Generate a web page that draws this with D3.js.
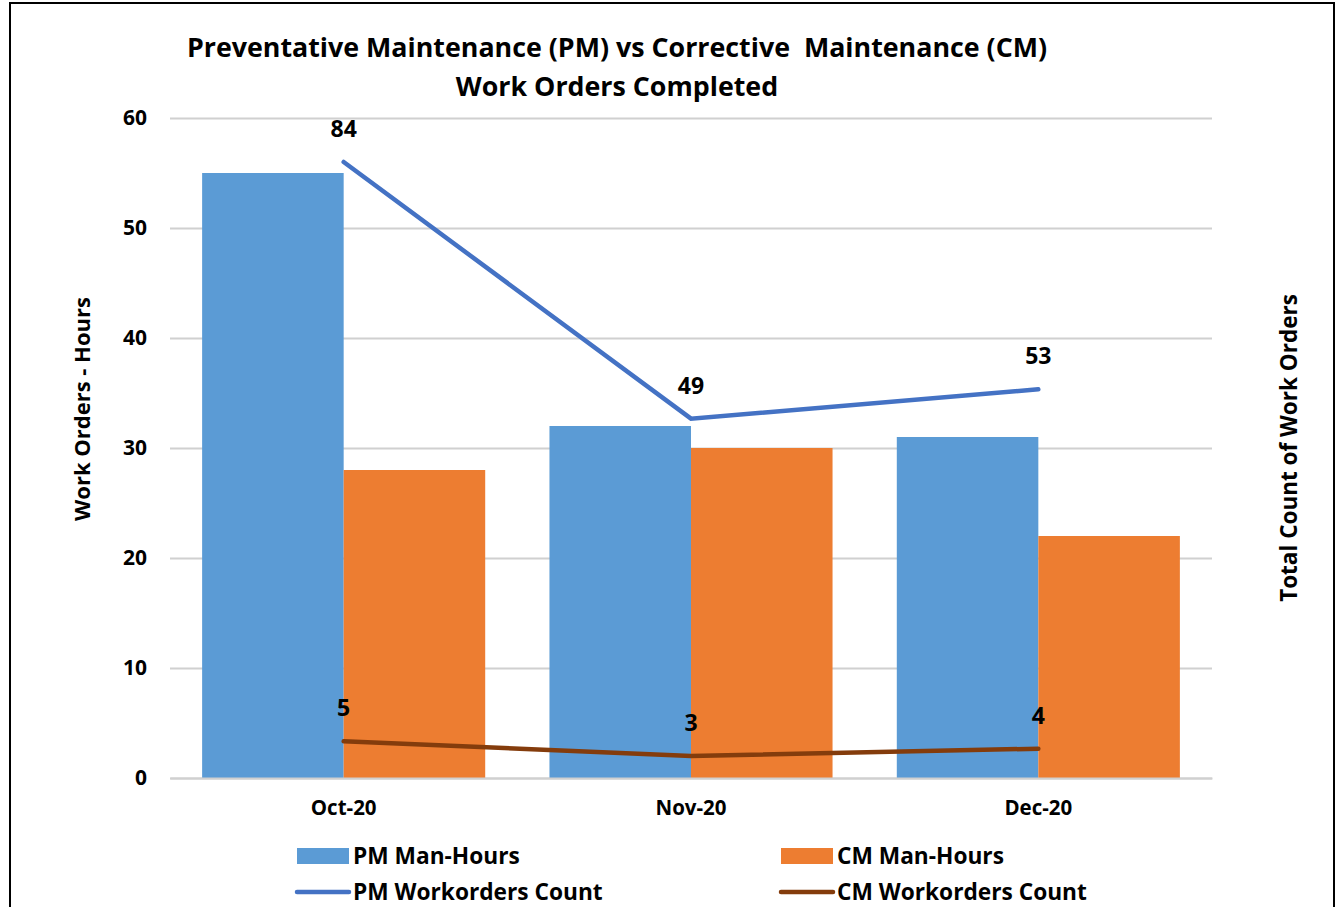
<!DOCTYPE html>
<html>
<head>
<meta charset="utf-8">
<script src="https://cdn.jsdelivr.net/npm/d3@7"></script>
<style>
  body { margin: 0; background: #fff; }
  svg text { font-family: "Open Sans", sans-serif; font-weight: bold; fill: #000; }
</style>
</head>
<body>
<svg id="chart"></svg>
<script>
const months = ["Oct-20", "Nov-20", "Dec-20"];
const pmHours = [55, 32, 31];
const cmHours = [28, 30, 22];
const pmCount = [84, 49, 53];
const cmCount = [5, 3, 4];
const hourTicks = [0, 10, 20, 30, 40, 50, 60];

const width = 1344, height = 907;
const marginTop = 118, marginRight = 132, marginBottom = 129, marginLeft = 170;

const svg = d3.select("#chart")
  .attr("width", width)
  .attr("height", height);

// outer frame
svg.append("rect")
  .attr("x", 10).attr("y", 3)
  .attr("width", 1324).attr("height", 930)
  .attr("fill", "none")
  .attr("stroke", "#000")
  .attr("stroke-width", 2);

const x = d3.scaleBand()
  .domain(months)
  .range([marginLeft, width - marginRight])
  .paddingInner(0.185)
  .paddingOuter(0.0925);

const xCenter = d3.scaleBand()
  .domain(months)
  .range([marginLeft, width - marginRight]);

const xSub = d3.scaleBand()
  .domain(["pm", "cm"])
  .range([0, x.bandwidth()]);

const y = d3.scaleLinear()
  .domain([0, 60])
  .range([height - marginBottom, marginTop]);

// secondary axis, hidden in the original
const y2 = d3.scaleLinear()
  .domain([0, 90])
  .range([height - marginBottom, marginTop]);

// gridlines
svg.append("g")
  .attr("transform", `translate(${marginLeft},0)`)
  .call(d3.axisLeft(y).tickValues(hourTicks).tickSize(-(width - marginLeft - marginRight)).tickFormat(""))
  .call(g => g.select(".domain").remove())
  .call(g => g.selectAll("line").attr("stroke", "#d0d0d0").attr("stroke-width", 2));

// y tick labels
svg.append("g")
  .attr("transform", `translate(${marginLeft},0)`)
  .call(d3.axisLeft(y).tickValues(hourTicks).tickSize(0).tickPadding(23))
  .call(g => g.select(".domain").remove())
  .call(g => g.selectAll("text").attr("font-size", 21).attr("font-family", "Open Sans").attr("font-weight", "bold"));

// bars
const series = [
  { key: "pm", values: pmHours, color: "#5B9BD5" },
  { key: "cm", values: cmHours, color: "#ED7D31" }
];

series.forEach(s => {
  svg.append("g")
    .attr("fill", s.color)
    .selectAll("rect")
    .data(months)
    .join("rect")
      .attr("x", (d, i) => x(d) + xSub(s.key))
      .attr("y", (d, i) => y(s.values[i]))
      .attr("width", xSub.bandwidth())
      .attr("height", (d, i) => y(0) - y(s.values[i]));
});

// x axis
svg.append("g")
  .attr("transform", `translate(0,${height - marginBottom})`)
  .call(d3.axisBottom(xCenter).tickSize(0).tickPadding(22))
  .call(g => g.select(".domain").attr("stroke", "#d0d0d0").attr("stroke-width", 2))
  .call(g => g.selectAll("text").attr("font-size", 20.5).attr("font-family", "Open Sans").attr("font-weight", "bold"));

// lines
const lines = [
  { values: pmCount, color: "#4472C4" },
  { values: cmCount, color: "#843C0C" }
];

const cx = d => xCenter(d) + xCenter.bandwidth() / 2;

lines.forEach(l => {
  const line = d3.line()
    .x((d, i) => cx(months[i]))
    .y(d => y2(d));
  svg.append("path")
    .datum(l.values)
    .attr("fill", "none")
    .attr("stroke", l.color)
    .attr("stroke-width", 4.5)
    .attr("stroke-linecap", "round")
    .attr("d", line);

  svg.append("g")
    .selectAll("text")
    .data(l.values)
    .join("text")
      .attr("x", (d, i) => cx(months[i]))
      .attr("y", d => y2(d) - 25)
      .attr("text-anchor", "middle")
      .attr("font-size", 23)
      .text(d => d);
});

// title
svg.append("text")
  .attr("x", 617).attr("y", 57)
  .attr("text-anchor", "middle")
  .attr("font-size", 26.8)
  .style("white-space", "pre")
  .text("Preventative Maintenance (PM) vs Corrective  Maintenance (CM)");

svg.append("text")
  .attr("x", 617).attr("y", 96)
  .attr("text-anchor", "middle")
  .attr("font-size", 26.8)
  .text("Work Orders Completed");

// axis titles
svg.append("text")
  .attr("transform", "translate(90,409) rotate(-90)")
  .attr("text-anchor", "middle")
  .attr("font-size", 22)
  .text("Work Orders - Hours");

svg.append("text")
  .attr("transform", "translate(1297,448) rotate(-90)")
  .attr("text-anchor", "middle")
  .attr("font-size", 22.5)
  .text("Total Count of Work Orders");

// legend
const legend = [
  { label: "PM Man-Hours", type: "rect", color: "#5B9BD5", x: 297, y: 856 },
  { label: "CM Man-Hours", type: "rect", color: "#ED7D31", x: 781, y: 856 },
  { label: "PM Workorders Count", type: "line", color: "#4472C4", x: 297, y: 892 },
  { label: "CM Workorders Count", type: "line", color: "#843C0C", x: 781, y: 892 }
];

legend.forEach(d => {
  if (d.type === "rect") {
    svg.append("rect")
      .attr("x", d.x).attr("y", d.y - 8)
      .attr("width", 52).attr("height", 16)
      .attr("fill", d.color);
  } else {
    svg.append("line")
      .attr("x1", d.x).attr("x2", d.x + 52)
      .attr("y1", d.y).attr("y2", d.y)
      .attr("stroke", d.color)
      .attr("stroke-width", 4.5)
      .attr("stroke-linecap", "round");
  }
  svg.append("text")
    .attr("x", d.x + 56).attr("y", d.y)
    .attr("dy", "0.35em")
    .attr("font-size", 22.7)
    .text(d.label);
});
</script>
</body>
</html>
